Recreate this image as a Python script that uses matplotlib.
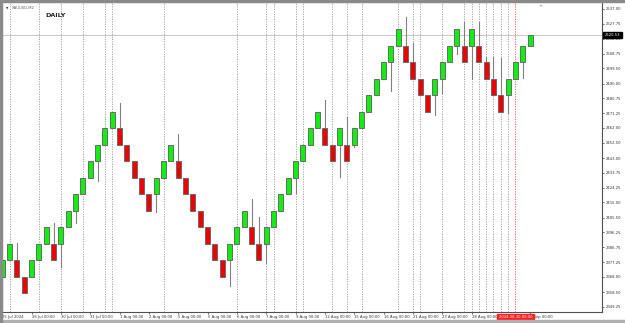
import matplotlib
matplotlib.use("Agg")
import matplotlib.pyplot as plt
from matplotlib.patches import Rectangle

# Renko bricks (XAUUSD M2 offline chart), read left to right
BRICK_SIZE = 10.4
BASE_PRICE = 2357.8
brick_levels = [1, 2, 1, 0, 1, 2, 3, 2, 3, 4, 5, 6, 7, 8, 9, 10, 9, 8, 7, 6,
                5, 6, 7, 8, 7, 6, 5, 4, 3, 2, 1, 2, 3, 4, 3, 2, 3, 4, 5, 6,
                7, 8, 9, 10, 9, 8, 9, 8, 9, 10, 11, 12, 13, 14, 15, 14, 13, 12, 11, 12,
                13, 14, 15, 14, 15, 14, 13, 12, 11, 12, 13, 14, 15]
brick_dirs = "UUDDUUUDUUUUUUUUDDDDDUUUDDDDDDDUUUDDUUUUUUUUDDUDUUUUUUUDDDDUUUUDUDDDDUUUU"
last_close = 2520.53

# wicks: brick number -> extreme price
wick_idx = [1, 3, 8, 9, 11, 14, 17, 22, 25, 32, 35, 36, 37, 39, 41, 45, 47, 48, 49,
            54, 56, 57, 60, 61, 63, 64, 65, 66, 67, 68, 69, 70, 72]
wick_price = [2350.3, 2389.2, 2401.8, 2374.5, 2402.2, 2428.7, 2477.7, 2409.2, 2458.2,
              2362.3, 2417.2, 2406.0, 2376.8, 2415.5, 2421.1, 2479.6, 2431.0, 2469.1,
              2450.0, 2485.5, 2532.1, 2515.4, 2470.1, 2483.8, 2508.6, 2529.0, 2492.9,
              2529.0, 2506.9, 2506.9, 2506.1, 2471.4, 2493.5]

# period separators (brick numbers)
sep_idx = [2, 6, 9, 12, 15, 16, 23, 33, 37, 38, 41, 42, 46, 48, 50, 55, 57, 58,
           61, 64, 65, 66, 67, 68, 69, 70]
cursor_idx = 71
cursor_label = "2024.08.30 00:00"

time_idx = [1, 5, 9, 13, 17, 21, 25, 29, 33, 37, 41, 45, 49, 53, 57, 61, 65, 73]
time_labels = ["25 Jul 2024", "26 Jul 00:00", "30 Jul 00:00", "31 Jul 00:00",
               "1 Aug 00:00", "2 Aug 00:00", "5 Aug 00:00", "5 Aug 00:00",
               "6 Aug 00:00", "7 Aug 00:00", "9 Aug 00:00", "12 Aug 00:00",
               "15 Aug 00:00", "16 Aug 00:00", "21 Aug 00:00", "23 Aug 00:00",
               "28 Aug 00:00", "2 Sep 00:00"]
price_ticks = [2537.00, 2527.75, 2518.25, 2508.75, 2499.50, 2490.00, 2480.75,
               2471.25, 2462.00, 2452.50, 2443.00, 2433.75, 2424.25, 2415.00,
               2405.50, 2396.25, 2386.75, 2377.25, 2368.00, 2358.50, 2349.25]

UP = "#0ff00f"
DOWN = "#f00000"
EDGE = "#6a6a6a"
W = 0.68

fig = plt.figure(figsize=(6.25, 3.23), dpi=100)
ax = fig.add_axes([2 / 625, 11.3 / 323, 600 / 625, 309.7 / 323])
ax.set_xlim(0.96, 82.8)
ax.set_ylim(2346.1, 2541.4)

for s in sep_idx:
    ax.axvline(s, color="#9a9a9a", lw=0.6, ls=(0, (1.5, 1.5)), zorder=0)
ax.axvline(cursor_idx, color="#ff5050", lw=0.6, ls=(0, (1.5, 1.5)), zorder=0)
ax.axhline(last_close, color="#c8c8c8", lw=0.7, zorder=0)

n = len(brick_levels)
tops, bots = {}, {}
for k in range(n):
    i = k + 1
    bot = BASE_PRICE + brick_levels[k] * BRICK_SIZE
    top = last_close if i == n else bot + BRICK_SIZE
    tops[i], bots[i] = top, bot
    col = UP if brick_dirs[k] == "U" else DOWN
    ax.add_patch(Rectangle((i - W / 2, bot), W, top - bot, facecolor=col,
                           edgecolor=EDGE, lw=0.7, zorder=3))

for i, p in zip(wick_idx, wick_price):
    start = tops[i] if p > tops[i] else bots[i]
    ax.plot([i, i], [start, p], color="#808080", lw=0.8, zorder=2)

# axes styling
for side in ["top", "left"]:
    ax.spines[side].set_color("#a0a0a0")
for side in ["right", "bottom"]:
    ax.spines[side].set_color("#505050")
    ax.spines[side].set_linewidth(0.8)

ax.yaxis.tick_right()
ax.set_yticks(price_ticks)
ax.set_yticklabels([f"{v:.2f}" for v in price_ticks])
ax.tick_params(axis="y", length=1.5, width=0.5, pad=1, labelsize=2.7,
               colors="#303030")
ax.set_xticks(time_idx)
ax.set_xticklabels(time_labels, ha="left")
ax.tick_params(axis="x", length=1.5, width=0.5, pad=1.2, labelsize=2.7,
               colors="#303030")

# current price box
ax.annotate(f"{last_close:.2f}", xy=(1.0, last_close),
            xycoords=("axes fraction", "data"), xytext=(2, 0),
            textcoords="offset points", ha="left", va="center", fontsize=2.7,
            color="white", zorder=10, annotation_clip=False,
            bbox=dict(boxstyle="square,pad=0.35", fc="black", ec="black"))

# cursor time box
ax.annotate(cursor_label, xy=(cursor_idx, 0), xycoords=("data", "axes fraction"),
            xytext=(0, -2.4), textcoords="offset points", ha="center", va="top",
            fontsize=2.7, color="white", zorder=10, annotation_clip=False,
            bbox=dict(boxstyle="square,pad=0.35", fc="#ff2020", ec="#ff2020"))

ax.text(0.006, 0.985, "▼", transform=ax.transAxes, fontsize=2.2, color="#303030",
        va="top", ha="left")
ax.text(0.016, 0.988, "XAUUSD,M2", transform=ax.transAxes, fontsize=2.7,
        color="#606060", va="top", ha="left")
ax.text(0.072, 0.963, "DAILY", transform=ax.transAxes, fontsize=4.6,
        fontweight="bold", color="#202020", va="top", ha="left")
ax.text(0.899, 0.998, "▾", transform=ax.transAxes, fontsize=3, color="#909090",
        va="top", ha="center")

# window frame
fig.patches.append(Rectangle((0, 0), 1, 3 / 323, transform=fig.transFigure,
                             color="#b0b0b0"))
fig.patches.append(Rectangle((0, 1 - 1.7 / 323), 1, 1.7 / 323,
                             transform=fig.transFigure, color="#8a8a8a"))
fig.patches.append(Rectangle((0, 0), 1.6 / 625, 1, transform=fig.transFigure,
                             color="#8a8a8a"))

fig.savefig("out.png", dpi=100)
